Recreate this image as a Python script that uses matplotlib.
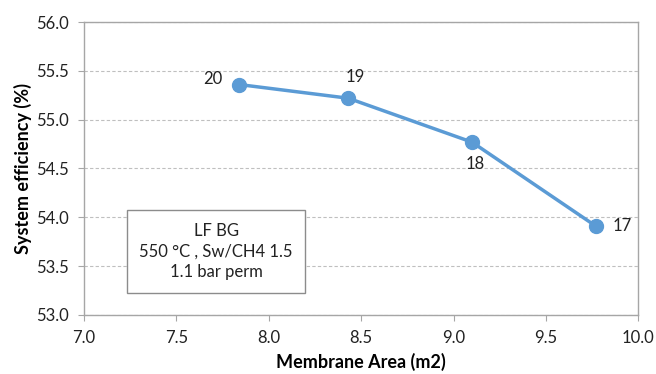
import matplotlib
matplotlib.use("Agg")
import matplotlib.pyplot as plt

plt.rcParams["font.family"] = ["Lato", "DejaVu Sans"]

membrane_area = [7.84, 8.43, 9.10, 9.77]
efficiency = [55.36, 55.22, 54.77, 53.91]
point_labels = ["20", "19", "18", "17"]
label_offsets = [(-19, 4), (5, 15), (2, -16), (19, 0)]

grey = "#a6a6a6"
blue = "#5b9bd5"

fig = plt.figure(figsize=(6.56, 3.74), dpi=100)
ax = fig.add_axes([0.128, 0.158, 0.845, 0.783])

ax.plot(membrane_area, efficiency, color=blue, linewidth=2.5, marker="o",
        markersize=10, zorder=3)
for x, y, lab, off in zip(membrane_area, efficiency, point_labels, label_offsets):
    ax.annotate(lab, (x, y), xytext=off, textcoords="offset points",
                ha="center", va="center", fontsize=12, color="#222222")

ax.set_xlim(7.0, 10.0)
ax.set_ylim(53.0, 56.0)
ax.set_xticks([7.0, 7.5, 8.0, 8.5, 9.0, 9.5, 10.0])
ax.set_yticks([53.0, 53.5, 54.0, 54.5, 55.0, 55.5, 56.0])
ax.xaxis.set_major_formatter(matplotlib.ticker.FormatStrFormatter("%.1f"))
ax.yaxis.set_major_formatter(matplotlib.ticker.FormatStrFormatter("%.1f"))
ax.tick_params(labelsize=12, colors=grey, labelcolor="#222222", length=4)
ax.tick_params(axis="x", pad=7)
ax.tick_params(axis="y", pad=7)
ax.yaxis.grid(True, linestyle=(0, (3, 2)), color="#bfbfbf", linewidth=0.8)
ax.set_axisbelow(True)
for s in ax.spines.values():
    s.set_color(grey)
    s.set_linewidth(1.0)

ax.set_xlabel("Membrane Area (m2)", fontsize=13, fontweight="bold", labelpad=5)
ax.set_ylabel("System efficiency (%)", fontsize=13, fontweight="bold", labelpad=3)

ax.text(7.715, 53.65, "LF BG\n550 °C , Sw/CH4 1.5\n1.1 bar perm", ha="center",
        va="center", fontsize=12, linespacing=1.35, color="#222222",
        bbox=dict(boxstyle="square,pad=0.75", fc="white", ec="#8c8c8c", lw=1))

fig.savefig("out.png", dpi=100)
